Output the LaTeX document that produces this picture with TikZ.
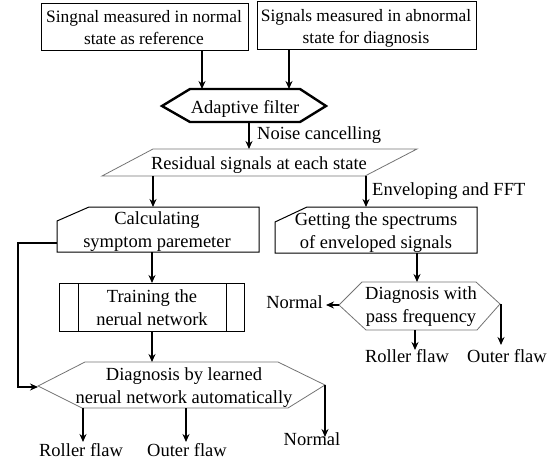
\documentclass[tikz,border=0pt]{standalone}
\usepackage{fontspec}
\setmainfont{Liberation Serif}
\usetikzlibrary{arrows.meta}
\begin{document}
\begin{tikzpicture}[x=1pt,y=-1pt,
  txt/.style={font=\fontsize{18.5}{22.5}\selectfont, align=center, inner sep=0pt, anchor=base},
  toptxt/.style={txt, font=\fontsize{17.4}{22}\selectfont},
  arr/.style={line width=1.8pt, -{Stealth[length=8pt,width=7pt]}},
  boxline/.style={draw=black, line width=1pt},
  thinline/.style={draw=black!55, line width=0.8pt},
  filterline/.style={draw=black, line width=2.4pt, line join=miter}]
\useasboundingbox (0,0) rectangle (552,463);
% source boxes
\node[boxline, minimum width=207pt, minimum height=47pt, inner sep=0pt] (src1) at (144.5,26.5) {};
\node[toptxt] (src1t) at (144,44) {Singnal measured in normal\\state as reference};
\node[boxline, minimum width=219pt, minimum height=48pt, inner sep=0pt] (src2) at (366.5,25) {};
\node[toptxt] (src2t) at (366,43) {Signals measured in abnormal\\state for diagnosis};
% adaptive filter
\draw[filterline] (162,106) -- (190,89) -- (300,89) -- (326,106) -- (300,122) -- (190,122) -- cycle;
\node[txt] (af) at (245,113) {Adaptive filter};
\coordinate (afin1) at (202,89);
\coordinate (afin2) at (289,89);
\coordinate (afout) at (249,122);
\draw[arr] (src1.south -| afin1) -- (afin1);
\draw[arr] (src2.south -| afin2) -- (afin2);
% residual
\draw[thinline] (153,149) -- (417,149) -- (365,176) -- (102,176) -- cycle;
\node[txt] (res) at (259,169) {Residual signals at each state};
\coordinate (resin) at (249,149);
\coordinate (resout1) at (153,176);
\coordinate (resout2) at (366,176);
\draw[arr] (afout) -- (resin);
\node[txt, anchor=base west] (noise) at (257,139) {Noise cancelling};
% calculating
\draw[boxline] (57,221) -- (89,207) -- (259,207) -- (259,252) -- (57,252) -- cycle;
\node[txt] (calc) at (157,247) {Calculating\\symptom paremeter};
\coordinate (calcin) at (153,207);
\coordinate (calcout) at (152,252);
\coordinate (calcw) at (57,243);
\draw[arr] (resout1) -- (calcin);
% getting spectrums
\draw[boxline] (275,222) -- (307,207) -- (477,207) -- (477,253) -- (275,253) -- cycle;
\node[txt] (get) at (376,248) {Getting the spectrums\\of enveloped signals};
\coordinate (getin) at (366,207);
\coordinate (getout) at (417,253);
\draw[arr] (resout2) -- (getin);
\node[txt, anchor=base west] (env) at (372,195) {Enveloping and FFT};
% training
\draw[boxline] (59,283) rectangle (244,331);
\draw[boxline] (78,283) -- (78,331) (226,283) -- (226,331);
\node[txt] (train) at (152,325) {Training the\\nerual network};
\coordinate (trin) at (152,283);
\coordinate (trout) at (152,331);
\draw[arr] (calcout) -- (trin);
% diagnosis by learned network
\draw[thinline] (38,386) -- (85,362) -- (278,362) -- (325,385) -- (288,408) -- (82,408) -- cycle;
\node[txt] (dl) at (184,403) {Diagnosis by learned\\nerual network automatically};
\coordinate (dlw) at (38,387);
\coordinate (dlin) at (152,362);
\coordinate (dlout1) at (83,408);
\coordinate (dlout2) at (186,408);
\coordinate (dle) at (325,385);
\coordinate (fb) at (18,0);
\draw[arr] (trout) -- (dlin);
\draw[arr] (calcw) -- (calcw -| fb) -- (fb |- dlw) -- (dlw);
\node[txt] (rf1) at (81,456) {Roller flaw};
\node[txt] (of1) at (187,456) {Outer flaw};
\node[txt] (nm1) at (312,445) {Normal};
\coordinate (rf1tip) at (83,442);
\coordinate (of1tip) at (186,442);
\coordinate (nm1tip) at (325,437);
\draw[arr] (dlout1) -- (rf1tip);
\draw[arr] (dlout2) -- (of1tip);
\draw[arr] (dle) -- (nm1tip);
% diagnosis with pass frequency
\draw[thinline] (339,305) -- (362,282) -- (476,282) -- (500,304) -- (477,330) -- (366,330) -- cycle;
\node[txt] (dr) at (421,322) {Diagnosis with\\pass frequency};
\coordinate (drw) at (339,305);
\coordinate (drn) at (417,282);
\coordinate (drs) at (415,330);
\coordinate (dre) at (501,304);
\draw[arr] (getout) -- (drn);
\node[txt, anchor=base east] (nm2) at (323,308) {Normal};
\coordinate (nm2tip) at (326,305);
\draw[arr] (drw) -- (nm2tip);
\node[txt] (rf2) at (407,362) {Roller flaw};
\node[txt] (of2) at (507,362) {Outer flaw};
\coordinate (rf2tip) at (415,350);
\coordinate (of2tip) at (501,345);
\draw[arr] (drs) -- (rf2tip);
\draw[arr] (dre) -- (of2tip);
\end{tikzpicture}
\end{document}
